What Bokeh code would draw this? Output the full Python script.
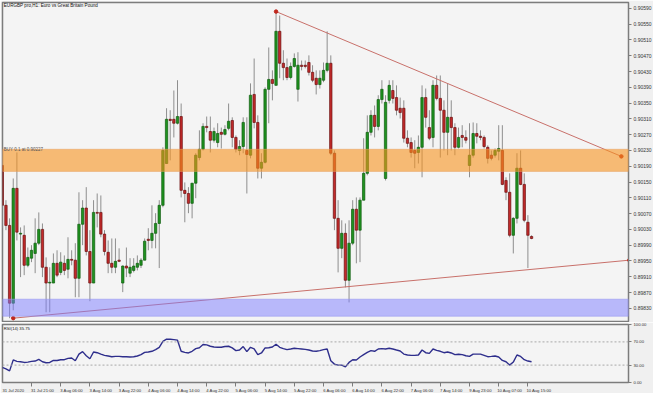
from bokeh.plotting import figure
from bokeh.layouts import column
from bokeh.models import (Range1d, FixedTicker, NumeralTickFormatter, BoxAnnotation,
                          Span, Label, ColumnDataSource)
from bokeh.embed import file_html
from bokeh.resources import INLINE

# ---------------- data (EURGBP H1) ----------------
first_bar = -8

open_ = [
    0.90192, 0.90091, 0.90040, 0.89843, 0.90134, 0.90018, 0.90015, 0.89939, 0.89957, 0.89969,
    0.89995, 0.90030, 0.89934, 0.89894, 0.89894, 0.89944, 0.89921, 0.89944, 0.89929, 0.89954,
    0.89952, 0.89906, 0.90043, 0.90084, 0.89974, 0.89894, 0.90073, 0.90073, 0.90018, 0.89972,
    0.89944, 0.89934, 0.89952, 0.89894, 0.89937, 0.89919, 0.89926, 0.89934, 0.89939, 0.89952,
    0.90005, 0.90002, 0.90020, 0.90045, 0.90091, 0.90197, 0.90309, 0.90309, 0.90299, 0.90316,
    0.90129, 0.90121, 0.90096, 0.90147, 0.90212, 0.90233, 0.90291, 0.90278, 0.90256, 0.90250,
    0.90276, 0.90271, 0.90286, 0.90306, 0.90263, 0.90230, 0.90240, 0.90230, 0.90218, 0.90372,
    0.90301, 0.90185, 0.90200, 0.90385, 0.90410, 0.90395, 0.90532, 0.90451, 0.90440, 0.90415,
    0.90443, 0.90385, 0.90446, 0.90446, 0.90453, 0.90428, 0.90413, 0.90397, 0.90408, 0.90433,
    0.90451, 0.90223, 0.90058, 0.89982, 0.90020, 0.89901, 0.89995, 0.90081, 0.90028, 0.90104,
    0.90172, 0.90276, 0.90319, 0.90291, 0.90359, 0.90159, 0.90357, 0.90382, 0.90364, 0.90337,
    0.90337, 0.90261, 0.90250, 0.90230, 0.90225, 0.90238, 0.90364, 0.90288, 0.90263, 0.90395,
    0.90362, 0.90332, 0.90276, 0.90314, 0.90288, 0.90238, 0.90268, 0.90263, 0.90192, 0.90218,
    0.90273, 0.90266, 0.90263, 0.90238, 0.90218, 0.90218, 0.90228, 0.90230, 0.90154, 0.90124,
    0.90015, 0.90058, 0.90185, 0.90144, 0.90048, 0.90012,
]
high = [
    0.90230, 0.90104, 0.90058, 0.90159, 0.90225, 0.90035, 0.90040, 0.89984, 0.89990, 0.90058,
    0.90073, 0.90045, 0.89959, 0.89934, 0.89969, 0.89977, 0.89972, 0.89964, 0.90010, 0.89977,
    0.89995, 0.90124, 0.90104, 0.90137, 0.90028, 0.90104, 0.90121, 0.90116, 0.90028, 0.90002,
    0.90007, 0.90007, 0.89982, 0.89939, 0.89984, 0.89957, 0.89957, 0.89964, 0.89957, 0.90007,
    0.90033, 0.90091, 0.90071, 0.90104, 0.90238, 0.90337, 0.90332, 0.90382, 0.90408, 0.90349,
    0.90149, 0.90137, 0.90147, 0.90223, 0.90281, 0.90299, 0.90316, 0.90316, 0.90288, 0.90299,
    0.90288, 0.90294, 0.90349, 0.90314, 0.90268, 0.90256, 0.90314, 0.90314, 0.90400, 0.90463,
    0.90319, 0.90223, 0.90390, 0.90491, 0.90433, 0.90582, 0.90572, 0.90484, 0.90463, 0.90453,
    0.90476, 0.90479, 0.90458, 0.90458, 0.90471, 0.90446, 0.90433, 0.90433, 0.90453, 0.90532,
    0.90471, 0.90230, 0.90104, 0.90053, 0.90045, 0.90053, 0.90104, 0.90111, 0.90111, 0.90261,
    0.90319, 0.90332, 0.90344, 0.90370, 0.90408, 0.90370, 0.90408, 0.90408, 0.90395, 0.90364,
    0.90357, 0.90281, 0.90263, 0.90256, 0.90268, 0.90395, 0.90387, 0.90332, 0.90408, 0.90420,
    0.90420, 0.90357, 0.90400, 0.90357, 0.90299, 0.90288, 0.90294, 0.90281, 0.90299, 0.90301,
    0.90299, 0.90281, 0.90268, 0.90243, 0.90230, 0.90235, 0.90294, 0.90294, 0.90162, 0.90172,
    0.90061, 0.90223, 0.90230, 0.90172, 0.90066, 0.90015,
]
low = [
    0.90033, 0.90028, 0.89805, 0.89825, 0.90002, 0.89909, 0.89914, 0.89934, 0.89947, 0.89919,
    0.89990, 0.89909, 0.89820, 0.89820, 0.89894, 0.89909, 0.89914, 0.89914, 0.89906, 0.89939,
    0.89858, 0.89858, 0.89990, 0.89964, 0.89848, 0.89894, 0.90035, 0.90010, 0.89964, 0.89919,
    0.89919, 0.89919, 0.89947, 0.89871, 0.89909, 0.89909, 0.89921, 0.89926, 0.89932, 0.89952,
    0.89977, 0.89982, 0.89982, 0.89932, 0.90086, 0.90197, 0.90205, 0.90263, 0.90296, 0.90111,
    0.90048, 0.90071, 0.90058, 0.90109, 0.90205, 0.90230, 0.90276, 0.90225, 0.90250, 0.90238,
    0.90235, 0.90268, 0.90281, 0.90238, 0.90225, 0.90218, 0.90223, 0.90121, 0.90210, 0.90286,
    0.90159, 0.90159, 0.90197, 0.90299, 0.90357, 0.90395, 0.90413, 0.90408, 0.90408, 0.90410,
    0.90440, 0.90354, 0.90433, 0.90438, 0.90420, 0.90403, 0.90372, 0.90387, 0.90403, 0.90428,
    0.90218, 0.90028, 0.89921, 0.89957, 0.89883, 0.89845, 0.89990, 0.89944, 0.89947, 0.90104,
    0.90167, 0.90268, 0.90263, 0.90281, 0.90349, 0.90154, 0.90349, 0.90349, 0.90319, 0.90311,
    0.90250, 0.90238, 0.90212, 0.90185, 0.90197, 0.90162, 0.90288, 0.90256, 0.90238, 0.90357,
    0.90212, 0.90230, 0.90218, 0.90230, 0.90218, 0.90235, 0.90238, 0.90248, 0.90162, 0.90212,
    0.90248, 0.90256, 0.90235, 0.90197, 0.90205, 0.90212, 0.90205, 0.90142, 0.90104, 0.90010,
    0.89969, 0.90045, 0.90142, 0.90048, 0.89932, 0.90005,
]
close = [
    0.90091, 0.90040, 0.89843, 0.90134, 0.90023, 0.90020, 0.89939, 0.89959, 0.89977, 0.89995,
    0.90030, 0.89934, 0.89894, 0.89896, 0.89944, 0.89914, 0.89947, 0.89926, 0.89954, 0.89952,
    0.89906, 0.90043, 0.90084, 0.89974, 0.89894, 0.90073, 0.90071, 0.90018, 0.89974, 0.89944,
    0.89934, 0.89949, 0.89949, 0.89937, 0.89932, 0.89934, 0.89937, 0.89944, 0.89952, 0.90000,
    0.90002, 0.90020, 0.90045, 0.90091, 0.90230, 0.90309, 0.90306, 0.90299, 0.90316, 0.90129,
    0.90121, 0.90096, 0.90147, 0.90218, 0.90233, 0.90291, 0.90288, 0.90256, 0.90278, 0.90273,
    0.90271, 0.90283, 0.90304, 0.90263, 0.90233, 0.90240, 0.90301, 0.90220, 0.90370, 0.90301,
    0.90185, 0.90200, 0.90385, 0.90410, 0.90400, 0.90532, 0.90451, 0.90440, 0.90415, 0.90443,
    0.90463, 0.90446, 0.90443, 0.90443, 0.90428, 0.90408, 0.90397, 0.90413, 0.90433, 0.90451,
    0.90223, 0.90058, 0.89982, 0.90020, 0.89901, 0.89995, 0.90081, 0.90028, 0.90104, 0.90172,
    0.90276, 0.90319, 0.90291, 0.90359, 0.90385, 0.90352, 0.90395, 0.90362, 0.90332, 0.90326,
    0.90261, 0.90248, 0.90225, 0.90223, 0.90238, 0.90364, 0.90314, 0.90261, 0.90395, 0.90362,
    0.90332, 0.90276, 0.90314, 0.90288, 0.90238, 0.90263, 0.90263, 0.90256, 0.90218, 0.90273,
    0.90266, 0.90263, 0.90240, 0.90210, 0.90210, 0.90230, 0.90235, 0.90144, 0.90124, 0.90015,
    0.90058, 0.90185, 0.90144, 0.90053, 0.90015, 0.90007,
]
rsi = [
    26.0, 23.6, 20.0, 39.0, 36.4, 35.8, 34.6, 35.2, 36.4, 37.0,
    40.0, 35.8, 34.0, 34.6, 38.0, 38.0, 39.3, 39.3, 41.6, 42.2,
    37.5, 49.0, 53.2, 46.2, 41.0, 52.6, 51.4, 49.0, 46.8, 45.7,
    44.5, 45.0, 45.0, 44.5, 44.5, 44.0, 44.5, 45.7, 48.0, 52.0,
    52.6, 53.8, 56.7, 60.7, 71.0, 74.6, 74.6, 74.0, 73.0, 53.8,
    52.0, 50.9, 53.8, 58.4, 60.0, 65.4, 64.8, 62.5, 61.3, 60.7,
    60.7, 62.0, 62.5, 59.6, 55.0, 56.0, 62.0, 53.2, 60.7, 57.8,
    48.0, 50.9, 59.6, 60.0, 61.3, 66.0, 60.7, 58.4, 56.7, 57.8,
    59.0, 58.4, 57.8, 57.2, 56.0, 54.3, 53.8, 55.0, 56.7, 57.8,
    37.5, 31.7, 30.0, 30.0, 27.0, 34.6, 39.3, 38.7, 44.0, 48.0,
    52.0, 55.0, 53.8, 57.8, 58.4, 57.8, 59.0, 57.8, 56.0, 54.3,
    49.0, 47.4, 46.8, 46.8, 47.4, 56.0, 51.4, 50.3, 57.8, 55.5,
    53.8, 51.4, 52.6, 50.9, 48.0, 48.6, 48.0, 46.2, 45.0, 49.0,
    49.0, 49.0, 46.8, 44.5, 45.0, 45.7, 44.0, 38.1, 35.8, 30.0,
    35.2, 47.4, 45.0, 39.3, 37.0, 35.75,
]

time_labels = [
    "31 Jul 2020", "31 Jul 21:00", "3 Aug 06:00", "3 Aug 14:00", "3 Aug 22:00",
    "4 Aug 06:00", "4 Aug 14:00", "4 Aug 22:00", "5 Aug 06:00", "5 Aug 14:00",
    "5 Aug 22:00", "6 Aug 06:00", "6 Aug 14:00", "6 Aug 22:00", "7 Aug 06:00",
    "7 Aug 14:00", "9 Aug 23:00", "10 Aug 07:00", "10 Aug 15:00",
]
price_ticks = [0.89830, 0.89870, 0.89910, 0.89950, 0.89990, 0.90030, 0.90070,
               0.90110, 0.90150, 0.90190, 0.90230, 0.90270, 0.90310, 0.90350,
               0.90390, 0.90430, 0.90470, 0.90510, 0.90550, 0.90590]
rsi_ticks = [0, 30, 70, 100]
rsi_levels = [70, 30]

# trend lines (bar index, price) and zones
upper_trend_bar = [67, 161.6]
upper_trend_price = [0.90582, 0.90215]
lower_trend_bar = [-5, 163.8]
lower_trend_price = [0.89805, 0.89952]
sell_zone = (0.90177, 0.90233)
buy_zone = (0.89810, 0.89853)
buy_price = 0.90227

bars = list(range(first_bar, first_bar + len(open_)))
label_bars = [first_bar + 8 * i for i in range(len(time_labels))]
# MT4 writes each time label to the right of its tick: centre of text ~3 bars right
LABEL_SHIFT = 3
label_centres = [b + LABEL_SHIFT for b in label_bars]

# ---------------- styles ----------------
BG = "#f4f4f4"
BORDER = "#f0f0f0"
GREEN, GREEN_EDGE = "#1f931f", "#0f5a0f"
RED, RED_EDGE = "#c22a2a", "#6a1010"
WICK = "#8e8e8e"
FONT = "Liberation Sans"

up = [c >= o for o, c in zip(open_, close)]
src = ColumnDataSource(dict(
    x=bars,
    top=[max(o, c) for o, c in zip(open_, close)],
    bottom=[min(o, c) for o, c in zip(open_, close)],
    high=high, low=low,
    fill=[GREEN if u else RED for u in up],
    edge=[GREEN_EDGE if u else RED_EDGE for u in up],
))

x_range = Range1d(-7.945, 163.56)

p1 = figure(frame_width=626, frame_height=320, x_range=x_range,
            y_range=Range1d(0.89794, 0.90605), y_axis_location="right",
            toolbar_location=None, output_backend="svg",
            min_border_left=2, min_border_right=25, min_border_top=2, min_border_bottom=0,
            background_fill_color=BG, border_fill_color=BORDER)
p1.xaxis.visible = False
p1.grid.visible = False
p1.outline_line_color = "#7c7c7c"
p1.outline_line_width = 1.5

ya = p1.yaxis[0]
ya.ticker = FixedTicker(ticks=price_ticks)
ya.formatter = NumeralTickFormatter(format="0.00000")
ya.major_label_text_font = FONT
ya.major_label_text_font_size = "5px"
ya.major_label_text_color = "#333333"
ya.major_tick_out = 3
ya.major_tick_in = 0
ya.minor_tick_out = 0
ya.minor_tick_in = 0
ya.major_label_standoff = 2
ya.axis_line_color = "#7c7c7c"
ya.major_tick_line_color = "#7c7c7c"

p1.segment("x", "low", "x", "high", source=src, line_color=WICK, line_width=1)
p1.vbar(x="x", width=0.65, top="top", bottom="bottom", source=src,
        fill_color="fill", line_color="edge", line_width=0.7)

p1.line(upper_trend_bar, upper_trend_price, line_color="#c8706a", line_width=1)
p1.line(lower_trend_bar, lower_trend_price, line_color="#c8706a", line_width=1)
p1.scatter(upper_trend_bar + lower_trend_bar, upper_trend_price + lower_trend_price,
           size=3.5, color="#c0281e")

p1.add_layout(BoxAnnotation(bottom=sell_zone[0], top=sell_zone[1],
                            fill_color="#f7931e", fill_alpha=0.6,
                            line_color="#e8a060", line_alpha=0.5, line_width=1))
p1.add_layout(BoxAnnotation(bottom=buy_zone[0], top=buy_zone[1],
                            fill_color="#7b7bff", fill_alpha=0.5,
                            line_color="#9a9af0", line_alpha=0.6, line_width=1))

p1.add_layout(Label(x=-7.6, y=buy_price, text="BUY 0.1 at 0.90227",
                    text_font=FONT, text_font_size="4.5px", text_color="#555555",
                    text_baseline="bottom"))
p1.add_layout(Label(x=-7.6, y=0.90603, text="EURGBP pro,H1:  Euro vs Great Britain Pound",
                    text_font=FONT, text_font_size="4.6px", text_color="#111111",
                    text_baseline="top"))

# ---------------- RSI panel ----------------
p2 = figure(frame_width=626, frame_height=58, x_range=x_range,
            y_range=Range1d(0, 100), y_axis_location="right",
            toolbar_location=None, output_backend="svg",
            min_border_left=2, min_border_right=25, min_border_top=2, min_border_bottom=11,
            background_fill_color=BG, border_fill_color=BORDER)
p2.grid.visible = False
p2.outline_line_color = "#7c7c7c"
p2.outline_line_width = 1.5

ra = p2.yaxis[0]
ra.ticker = FixedTicker(ticks=rsi_ticks)
ra.formatter = NumeralTickFormatter(format="0.00")
ra.major_label_text_font = FONT
ra.major_label_text_font_size = "4.2px"
ra.major_label_text_color = "#333333"
ra.major_tick_out = 3
ra.major_tick_in = 0
ra.minor_tick_out = 0
ra.minor_tick_in = 0
ra.major_label_standoff = 2
ra.axis_line_color = "#7c7c7c"
ra.major_tick_line_color = "#7c7c7c"

xa = p2.xaxis[0]
xa.ticker = FixedTicker(ticks=label_centres, minor_ticks=label_bars)
xa.major_label_overrides = {c: t for c, t in zip(label_centres, time_labels)}
xa.major_label_text_font = FONT
xa.major_label_text_font_size = "4.2px"
xa.major_label_text_color = "#333333"
xa.major_tick_out = 0
xa.major_tick_in = 0
xa.minor_tick_out = 4
xa.minor_tick_in = 0
xa.minor_tick_line_color = "#7c7c7c"
xa.major_label_standoff = 1
xa.axis_line_color = "#7c7c7c"

for lvl in rsi_levels:
    p2.add_layout(Span(location=lvl, dimension="width", line_color="#a8a8a8",
                       line_dash="2 2", line_width=1))

p2.line(bars, rsi, line_color="#2e2e8c", line_width=1.4)
p2.add_layout(Label(x=-7.6, y=97, text="RSI(14) 35.75",
                    text_font=FONT, text_font_size="4.2px", text_color="#111111",
                    text_baseline="top"))

layout = column(p1, p2, spacing=0)
open("out.html", "w").write(file_html(layout, INLINE))
